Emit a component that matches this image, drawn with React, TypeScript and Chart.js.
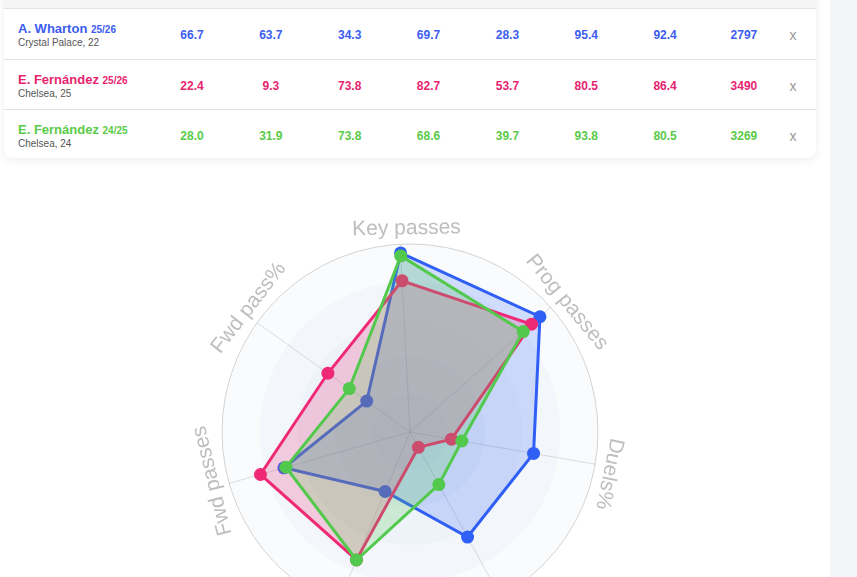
import React, { useEffect, useRef } from "react";
import { Chart, registerables } from "chart.js";

Chart.register(...registerables);

const playerNames = ["A. Wharton", "E. Fernández", "E. Fernández"];
const playerSeasons = ["25/26", "25/26", "24/25"];
const playerTeams = ["Crystal Palace, 22", "Chelsea, 25", "Chelsea, 24"];
const tableColumns = ["Duels%", "Aerial%", "Dribbles", "Fwd passes", "Fwd pass%", "Key passes", "Prog passes", "Minutes"];
const whartonValues = [66.7, 63.7, 34.3, 69.7, 28.3, 95.4, 92.4, 2797];
const fernandez2526Values = [22.4, 9.3, 73.8, 82.7, 53.7, 80.5, 86.4, 3490];
const fernandez2425Values = [28.0, 31.9, 73.8, 68.6, 39.7, 93.8, 80.5, 3269];
const radarLabels = ["Key passes", "Prog passes", "Duels%", "Aerial%", "Dribbles", "Fwd passes", "Fwd pass%"];
const radarTicks = [20, 40, 60, 80, 100];

const playerValues = [whartonValues, fernandez2526Values, fernandez2425Values];
const textColors = ["#3d5cf0", "#e8246f", "#5acb48"];
const lineColors = ["#2f5ff5", "#ee2a77", "#52c94c"];
const fillColors = ["rgba(47,95,245,0.2)", "rgba(238,42,119,0.22)", "rgba(82,201,76,0.22)"];

const fmt = (v: number, i: number) => (i === tableColumns.length - 1 ? String(v) : v.toFixed(1));

const bandsPlugin = {
  id: "bands",
  beforeDraw(chart: any) {
    const s = chart.scales.r;
    const ctx = chart.ctx;
    ctx.save();
    for (const t of radarTicks) {
      const r = s.getDistanceFromCenterForValue(t);
      ctx.beginPath();
      ctx.arc(s.xCenter, s.yCenter, r, 0, Math.PI * 2);
      ctx.fillStyle = "rgba(60,140,200,0.032)";
      ctx.fill();
    }
    ctx.restore();
  },
};

const labelsPlugin = {
  id: "rotLabels",
  afterDraw(chart: any) {
    const s = chart.scales.r;
    const ctx = chart.ctx;
    const labels = chart.data.labels as string[];
    const shift = (2 * Math.PI) / 180;
    const dist = s.drawingArea + 15.5;
    ctx.save();
    ctx.font = "21px 'Liberation Sans', Arial, sans-serif";
    ctx.fillStyle = "#bebebe";
    ctx.textAlign = "center";
    ctx.textBaseline = "middle";
    labels.forEach((lab, i) => {
      const a = s.getIndexAngle(i) + shift;
      const x = s.xCenter + Math.sin(a) * dist;
      const y = s.yCenter - Math.cos(a) * dist;
      ctx.save();
      ctx.translate(x, y);
      ctx.rotate(a);
      ctx.fillText(lab, 0, 0);
      ctx.restore();
    });
    ctx.restore();
  },
};

function RadarChart() {
  const ref = useRef<HTMLCanvasElement | null>(null);
  useEffect(() => {
    if (!ref.current) return;
    const datasets = playerValues.map((vals, p) => ({
      label: playerNames[p] + " " + playerSeasons[p],
      data: radarLabels.map((l) => vals[tableColumns.indexOf(l)]),
      borderColor: lineColors[p],
      backgroundColor: fillColors[p],
      pointBackgroundColor: lineColors[p],
      pointBorderColor: lineColors[p],
      pointBorderWidth: 0,
      pointRadius: 6.5,
      borderWidth: 3,
      fill: true,
      order: 3 - p,
    }));
    const chart = new Chart(ref.current, {
      type: "radar",
      data: { labels: radarLabels, datasets },
      options: {
        responsive: false,
        animation: false,
        devicePixelRatio: 1,
        layout: { padding: 62 },
        plugins: { legend: { display: false }, tooltip: { enabled: false } },
        elements: { line: { tension: 0 } },
        scales: {
          r: {
            min: 0,
            max: 100,
            startAngle: -3,
            ticks: { display: false, stepSize: 20 },
            pointLabels: { display: false },
            angleLines: { color: "rgba(0,0,0,0.12)", lineWidth: 1 },
            grid: {
              circular: true,
              color: (c: any) => (c.tick && c.tick.value === 100 ? "#d3d3d3" : "rgba(0,0,0,0)"),
              lineWidth: 1,
            },
          },
        },
      },
      plugins: [bandsPlugin, labelsPlugin],
    });
    return () => chart.destroy();
  }, []);
  return (
    <canvas
      ref={ref}
      width={500}
      height={500}
      style={{ position: "absolute", left: 160, top: 182, width: 500, height: 500 }}
    />
  );
}

const rowTops = [8, 59, 109];
const cardBottom = 158;

export default function App() {
  return (
    <div
      style={{
        position: "fixed",
        left: 0,
        top: 0,
        width: 857,
        height: 577,
        overflow: "hidden",
        background: "#ffffff",
        fontFamily: "'Liberation Sans', Arial, Helvetica, sans-serif",
      }}
    >
      <div style={{ position: "absolute", left: 830, top: 0, width: 27, height: 577, background: "#f4f5f9" }} />
      <div
        style={{
          position: "absolute",
          left: 4,
          top: -30,
          width: 812,
          height: cardBottom + 30,
          background: "#fff",
          borderRadius: 8,
          boxShadow: "0 2px 8px rgba(0,0,0,0.07)",
          overflow: "hidden",
        }}
      >
        <div style={{ position: "absolute", left: 0, top: 0, width: 812, height: 38, background: "#f5f5f5" }}>
          {tableColumns.map((c, i) => (
            <div
              key={c}
              style={{
                position: "absolute",
                left: 188 + i * 78.85 - 40,
                width: 80,
                top: 4,
                fontSize: 11,
                lineHeight: "13px",
                textAlign: "center",
                color: "#888",
                whiteSpace: "nowrap",
              }}
            >
              {c}
            </div>
          ))}
        </div>
        {playerNames.map((name, p) => {
          const top = rowTops[p] + 30;
          const h = (p < 2 ? rowTops[p + 1] : cardBottom) - rowTops[p];
          return (
            <div
              key={p}
              style={{
                position: "absolute",
                left: 0,
                top,
                width: 812,
                height: h,
                borderTop: "1px solid #e2e2e2",
                boxSizing: "border-box",
              }}
            >
              <div
                style={{
                  position: "absolute",
                  left: 14,
                  top: 11.7,
                  fontSize: 13,
                  lineHeight: "15px",
                  fontWeight: 700,
                  color: textColors[p],
                  whiteSpace: "nowrap",
                }}
              >
                {name} <span style={{ fontSize: 10 }}>{playerSeasons[p]}</span>
              </div>
              <div
                style={{
                  position: "absolute",
                  left: 14,
                  top: 27.5,
                  fontSize: 10,
                  lineHeight: "12px",
                  color: "#555",
                  whiteSpace: "nowrap",
                }}
              >
                {playerTeams[p]}
              </div>
              {playerValues[p].map((v, i) => (
                <div
                  key={i}
                  style={{
                    position: "absolute",
                    left: 188 + i * 78.85 - 40,
                    width: 80,
                    top: 19.1,
                    fontSize: 12,
                    lineHeight: "14px",
                    fontWeight: 700,
                    textAlign: "center",
                    color: textColors[p],
                  }}
                >
                  {fmt(v, i)}
                </div>
              ))}
              <div
                style={{
                  position: "absolute",
                  left: 789 - 10,
                  width: 20,
                  top: 18.2,
                  fontSize: 14,
                  lineHeight: "16px",
                  textAlign: "center",
                  color: "#999",
                }}
              >
                x
              </div>
            </div>
          );
        })}
      </div>
      <RadarChart />
    </div>
  );
}
